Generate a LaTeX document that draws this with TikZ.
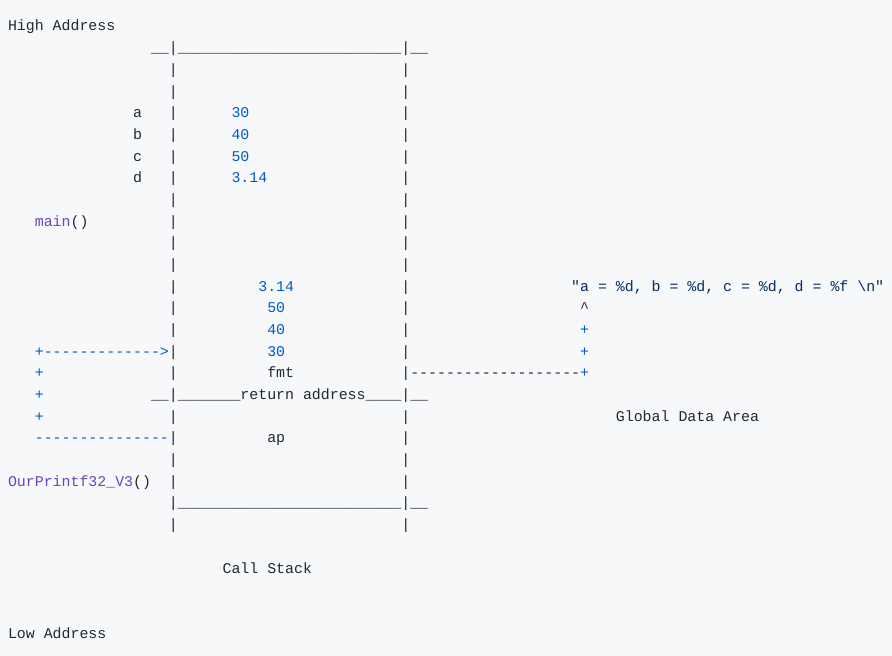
\documentclass[tikz,border=0pt]{standalone}
\usepackage{fontspec}
\newfontfamily\codefont{Liberation Mono}[Ligatures=TeXOff]
\definecolor{bg}{HTML}{F6F8FA}
\definecolor{ink}{HTML}{24292E}
\definecolor{num}{HTML}{005CC5}
\definecolor{fn}{HTML}{6F42C1}
\definecolor{str}{HTML}{032F62}
\ExplSyntaxOn
\cs_new:Npn \myrep #1#2 { \prg_replicate:nn {#1} {#2} }
\ExplSyntaxOff
\newcommand\us[1]{\myrep{#1}{\_}}
\newcommand\ds[1]{\myrep{#1}{-}}
\tikzset{
  code/.style={anchor=base west, inner sep=0pt, outer sep=0pt,
    font=\codefont\fontsize{11.175pt}{14pt}\selectfont, text=ink},
  numtxt/.style={code, text=num},
  strtxt/.style={code, text=str}
}
\begin{document}
\begin{tikzpicture}[x=6.705pt, y=-16.26pt]
\fill[bg] (-6pt,23.25pt) rectangle (663pt,-468.75pt);
\useasboundingbox (-6pt,23.25pt) rectangle (663pt,-468.75pt);
\frenchspacing
% headings
\node[code] (hi) at (0,0) {High Address};
\node[code] (lo) at (0,28) {Low Address};
\node[code] (cs) at (24,25) {Call Stack};
\node[code] (gda) at (68,18) {Global Data Area};
% frame
\node[code] (top) at (16,1) {\us{2}|\us{25}|\us{2}};
\node[code] (ret) at (16,17) {\us{2}|\us{7}return address\us{4}|\us{2}};
\node[code] (bot) at (18,22) {|\us{25}|\us{2}};
\foreach \r in {2,3,4,5,6,7,8,9,10,11,12,13,14,15,16,18,19,20,21,23} {
  \node[code] (pl\r) at (18,\r) {|};
  \node[code] (pr\r) at (44,\r) {|};
}
% main frame
\node[code] (va) at (14,4) {a};
\node[code] (vb) at (14,5) {b};
\node[code] (vc) at (14,6) {c};
\node[code] (vd) at (14,7) {d};
\node[numtxt] (na) at (25,4) {30};
\node[numtxt] (nb) at (25,5) {40};
\node[numtxt] (nc) at (25,6) {50};
\node[numtxt] (nd) at (25,7) {3.14};
\node[code] (main) at (3,9) {\textcolor{fn}{main}()};
% callee frame
\node[numtxt] (s314) at (28,12) {3.14};
\node[numtxt] (s50) at (29,13) {50};
\node[numtxt] (s40) at (29,14) {40};
\node[numtxt] (s30) at (29,15) {30};
\node[code] (fmt) at (29,16) {fmt};
\node[code] (ap) at (29,19) {ap};
\node[code] (ourp) at (0,21) {\textcolor{fn}{OurPrintf32\_V3}()};
% left pointer
\node[numtxt] (arrA) at (3,15) {+\ds{13}>};
\node[numtxt] (p16) at (3,16) {+};
\node[numtxt] (p17) at (3,17) {+};
\node[numtxt] (p18) at (3,18) {+};
\node[numtxt] (dashB) at (3,19) {\ds{15}};
% right pointer to format string
\node[strtxt] (fmtstr) at (63,12) {"a = \%d, b = \%d, c = \%d, d = \%f \textbackslash n"};
\node[code] (caret) at (64,13) {\textasciicircum};
\node[numtxt] (q14) at (64,14) {+};
\node[numtxt] (q15) at (64,15) {+};
\node[code] (dashC) at (45,16) {\ds{19}\textcolor{num}{+}};
\end{tikzpicture}
\end{document}
